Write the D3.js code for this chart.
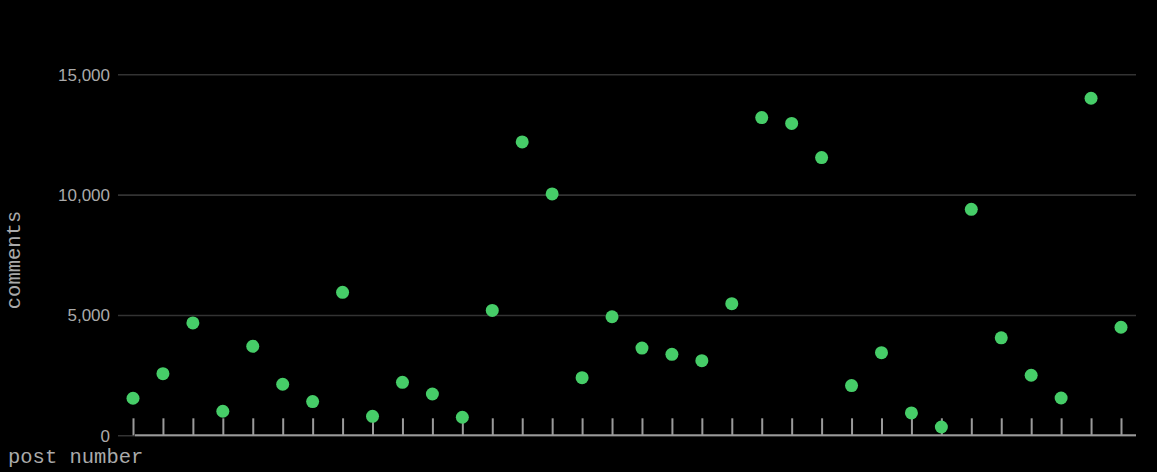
<!DOCTYPE html>
<html>
<head>
<meta charset="utf-8">
<script src="https://cdn.jsdelivr.net/npm/d3@7"></script>
<style>
  html, body { margin: 0; padding: 0; background: #000; }
  svg { display: block; }
</style>
</head>
<body>
<svg id="chart" width="1157" height="472"></svg>
<script>
// Data
const postNumbers = d3.range(1, 35);
const comments = [
  1540, 2560, 4670, 1000, 3700, 2120, 1400, 5940, 790, 2200,
  1715, 750, 5190, 12190, 10030, 2395, 4925, 3625, 3365, 3100,
  5470, 13200, 12960, 11540, 2065, 3435, 930, 345, 9390, 4050,
  2495, 1550, 14005, 4490
];
const yTicks = [0, 5000, 10000, 15000];
const xTitle = "post number";
const yTitle = "comments";

const svg = d3.select("#chart");
const W = 1157, H = 472;
svg.append("rect").attr("width", W).attr("height", H).attr("fill", "#000");

const gridLeft = 118, plotRight = 1136;
const x = d3.scalePoint().domain(postNumbers).range([133, 1121]);
const y = d3.scaleLinear().domain([0, 15000]).range([435.3, 74.3]);

// Gridlines
const yAxis = d3.axisLeft(y)
  .tickValues(yTicks)
  .tickSize(0)
  .tickPadding(0)
  .tickFormat(d3.format(","));
const gy = svg.append("g").attr("transform", `translate(${gridLeft},0)`).call(yAxis);
gy.select(".domain").remove();
gy.selectAll(".tick line")
  .attr("x1", 0).attr("x2", plotRight - gridLeft)
  .attr("stroke", "#333").attr("stroke-width", 1.6);
gy.selectAll(".tick text")
  .attr("x", -8)
  .attr("dy", "0.35em")
  .attr("fill", "#aaa")
  .style("font-family", "'Liberation Sans', Arial, sans-serif")
  .style("font-size", "17px");

// X axis line and ticks
const gx = svg.append("g").attr("transform", `translate(0,${y(0)})`);
gx.call(d3.axisBottom(x).tickSize(-17).tickFormat(""));
gx.select(".domain").remove();
gx.selectAll(".tick line").attr("stroke", "#9a9a9a").attr("stroke-width", 2);
gx.append("line")
  .attr("x1", x.range()[0] + 2).attr("x2", plotRight)
  .attr("y1", 0).attr("y2", 0)
  .attr("stroke", "#9a9a9a").attr("stroke-width", 2);

// Points
svg.append("g").selectAll("circle")
  .data(postNumbers)
  .join("circle")
  .attr("cx", (d) => x(d))
  .attr("cy", (d, i) => y(comments[i]))
  .attr("r", 6.5)
  .attr("fill", "#46cd68");

// Titles
svg.append("text")
  .attr("x", 8).attr("y", 463)
  .attr("fill", "#aaa")
  .style("font-family", "'Liberation Mono', 'Courier New', monospace")
  .style("font-size", "20.5px")
  .text(xTitle);

svg.append("text")
  .attr("transform", "translate(20,260) rotate(-90)")
  .attr("text-anchor", "middle")
  .attr("fill", "#aaa")
  .style("font-family", "'Liberation Mono', 'Courier New', monospace")
  .style("font-size", "20.5px")
  .text(yTitle);
</script>
</body>
</html>
